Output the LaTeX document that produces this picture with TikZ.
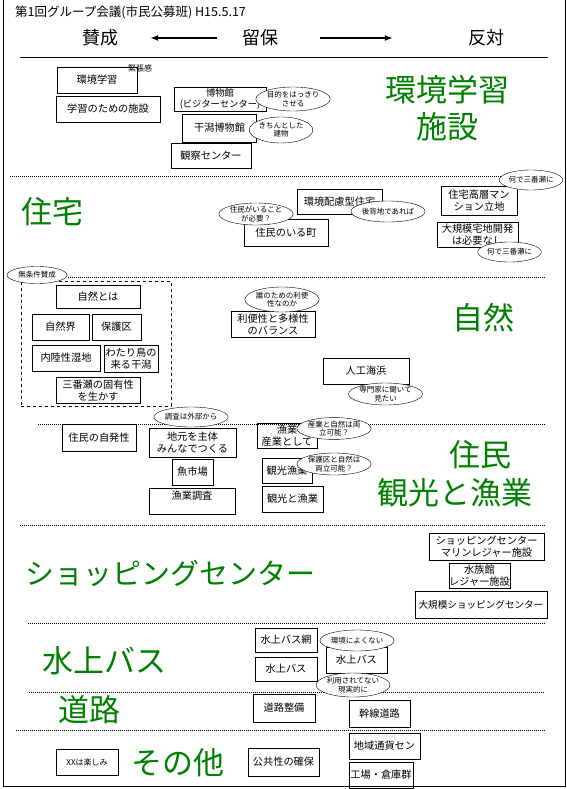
\documentclass[tikz,border=0pt]{standalone}
\usepackage{fontspec}
\setmainfont{Noto Sans CJK JP}
\usetikzlibrary{arrows.meta,shapes.geometric,positioning}
\definecolor{themegreen}{RGB}{0,128,0}

\tikzset{
  box/.style={draw, align=center, inner sep=1pt, font=\fontsize{10.2}{12}\selectfont},
  remark/.style={draw, fill=white, ellipse, inner sep=0pt, align=center, font=\fontsize{7.5}{8.5}\selectfont},
  theme/.style={text=themegreen, inner sep=0pt, font=\fontsize{31}{34}\selectfont},
  head/.style={inner sep=0pt, font=\fontsize{18}{20}\selectfont},
  sepline/.style={dash pattern=on 1pt off 1pt, line width=0.5pt},
}

\begin{document}
\begin{tikzpicture}[x=1pt,y=-1pt]
\useasboundingbox (0,0) rectangle (567,789);
\draw (3,0) -- (3,786) -- (565,786) -- (565,0);

% title and header
\node[anchor=west, inner sep=0pt, font=\fontsize{12.5}{14}\selectfont] (title) at (15,12) {第1回グループ会議(市民公募班)\ H15.5.17};
\node[head] (pro) at (100,38) {賛成};
\node[head] (hold) at (260,38) {留保};
\node[head] (con) at (486,38) {反対};
\draw[line width=1.5pt,-{Latex[length=8pt,width=6pt]},shorten <=25pt,shorten >=32pt] (hold) -- (pro);
\draw[line width=1.5pt,-{Latex[length=8pt,width=6pt]},shorten <=42pt,shorten >=75pt] (hold) -- (con);
\draw (20,57) -- (548,57);

% separators
\draw[sepline] (10,176) -- (502,176);
\draw[sepline] (68,277) -- (545,277);
\draw[sepline] (38,424) -- (545,424);
\draw[sepline] (20,525) -- (545,525);
\draw[sepline] (28,623) -- (545,623);
\draw[sepline] (29,692) -- (545,692);
\draw[sepline] (16,730) -- (545,730);

% themes
\node[theme] (envA) at (447,90) {環境学習};
\node[theme] (envB) at (447,127) {施設};
\node[theme] (housing) at (52,212) {住宅};
\node[theme] (nature) at (483,318) {自然};
\node[theme] (residA) at (480,455) {住民};
\node[theme] (residB) at (455,493) {観光と漁業};
\node[theme, font=\fontsize{29}{33}\selectfont] (shopping) at (170,573) {ショッピングセンター};
\node[theme] (waterbus) at (104,661) {水上バス};
\node[theme] (road) at (89,710) {道路};
\node[theme] (other) at (178,763) {その他};

% environmental learning
\node[box, minimum width=80, minimum height=26] (envstudy) at (97,80) {環境学習};
\node[inner sep=0pt, font=\fontsize{8}{9}\selectfont] (tension) at (140,68) {緊張感};
\node[box, minimum width=104, minimum height=26] (facility) at (108,109) {学習のための施設};
\node[box, minimum width=92, minimum height=24, inner sep=0pt, font=\fontsize{9.3}{11}\selectfont] (museum) at (220,99) {博物館\\(ビジターセンター)};
\node[remark, minimum width=56, minimum height=24] (purpose) at (293,99) {目的をはっきり\\させる};
\node[box, minimum width=74, minimum height=28] (tidal) at (219.5,128) {干潟博物館};
\node[remark, minimum width=58, minimum height=26] (proper) at (281,130) {きちんとした\\建物};
\node[box, minimum width=80, minimum height=25] (observe) at (211,155.5) {観察センター};

% housing
\node[box, minimum width=85, minimum height=25] (ecohouse) at (339.5,201.5) {環境配慮型住宅};
\node[remark, minimum width=59, minimum height=21] (hinter) at (388,211.5) {後背地であれば};
\node[box, minimum width=84, minimum height=27] (town) at (286,232.5) {住民のいる町};
\node[remark, minimum width=60, minimum height=22] (needres) at (256,214) {住民がいること\\が必要？};
\node[box, minimum width=76, minimum height=29, inner sep=0pt] (tower) at (479,200.5) {住宅高層マン\\ション立地};
\node[remark, minimum width=58, minimum height=20] (whyA) at (531,180) {何で三番瀬に};
\node[box, minimum width=81, minimum height=25, inner sep=0pt] (largelot) at (477.5,234.5) {大規模宅地開発\\は必要なし};
\node[remark, minimum width=61, minimum height=20] (whyB) at (509.5,252) {何で三番瀬に};

% nature
\node[draw, dashed, minimum width=150, minimum height=125] (naturegroup) at (96,343.5) {};
\node[remark, minimum width=60, minimum height=17] (uncond) at (37,275) {無条件賛成};
\node[box, minimum width=84, minimum height=23] (whatnature) at (98,296.5) {自然とは};
\node[box, minimum width=57, minimum height=26] (naturalworld) at (60.5,327) {自然界};
\node[box, minimum width=49, minimum height=26] (reserve) at (116.5,327) {保護区};
\node[box, minimum width=68, minimum height=26] (wetland) at (66,358) {内陸性湿地};
\node[box, minimum width=54, minimum height=27, inner sep=0pt] (birds) at (131,358.5) {わたり鳥の\\来る干潟};
\node[box, minimum width=84, minimum height=26, inner sep=0pt] (unique) at (98,390) {三番瀬の固有性\\を生かす};
\node[box, minimum width=84, minimum height=26, inner sep=0pt] (balance) at (273,324) {利便性と多様性\\のバランス};
\node[remark, minimum width=60, minimum height=25] (forwhom) at (282,299.5) {誰のための利便\\性なのか};
\node[box, minimum width=86, minimum height=26] (beach) at (366,371) {人工海浜};
\node[remark, minimum width=57, minimum height=22] (expert) at (385.5,394) {専門家に聞いて\\見たい};

% residents, tourism and fishery
\node[box, minimum width=74, minimum height=27] (initiative) at (99,437.5) {住民の自発性};
\node[box, minimum width=87, minimum height=29, inner sep=0pt] (local) at (192.5,442.5) {地元を主体\\みんなでつくる};
\node[remark, minimum width=66, minimum height=20] (survey) at (191,417) {調査は外部から};
\node[box, minimum width=41, minimum height=26] (market) at (192.5,472) {魚市場};
\node[box, minimum width=86, minimum height=26, inner sep=0pt] (fishsurvey) at (192,501) {漁業調査\\~};
\node[box, minimum width=60, minimum height=25, inner sep=0pt] (industry) at (287,435.5) {漁業\\産業として};
\node[remark, minimum width=62, minimum height=21] (coexistA) at (334,428.5) {産業と自然は両\\立可能？};
\node[box, minimum width=50, minimum height=25] (tourfish) at (287,470.5) {観光漁業};
\node[remark, minimum width=62, minimum height=22] (coexistB) at (334,464) {保護区と自然は\\両立可能？};
\node[box, minimum width=61, minimum height=26] (tourandfish) at (292.5,499) {観光と漁業};

% shopping
\node[box, minimum width=115, minimum height=27, inner sep=0pt] (marine) at (486.5,546.5) {ショッピングセンター\\マリンレジャー施設};
\node[box, minimum width=61, minimum height=25, inner sep=0pt] (aquarium) at (479.5,575.5) {水族館\\レジャー施設};
\node[box, minimum width=132, minimum height=27, font=\fontsize{9.6}{11}\selectfont] (mall) at (481,604.5) {大規模ショッピングセンター};

% water bus
\node[box, minimum width=62, minimum height=24] (busnet) at (286,640) {水上バス網};
\node[box, minimum width=62, minimum height=24] (busA) at (286,669) {水上バス};
\node[box, minimum width=61, minimum height=26] (busB) at (356.5,660) {水上バス};
\node[remark, minimum width=60, minimum height=21] (notgood) at (357,640.5) {環境によくない};
\node[remark, minimum width=60, minimum height=24] (unused) at (353,685) {利用されてない\\現実的に};

% roads
\node[box, minimum width=62, minimum height=28] (roadwork) at (284,708) {道路整備};
\node[box, minimum width=61, minimum height=27] (trunk) at (379.5,713.5) {幹線道路};

% other
\node[box, minimum width=71, minimum height=26] (currency) at (384.5,746) {地域通貨セン};
\node[box, minimum width=71, minimum height=28] (public) at (283.5,762) {公共性の確保};
\node[box, minimum width=64, minimum height=26] (factory) at (381,775) {工場・倉庫群};
\node[box, minimum width=62, minimum height=26, font=\fontsize{8}{9}\selectfont] (fun) at (87,762) {XXは楽しみ};
\end{tikzpicture}
\end{document}
